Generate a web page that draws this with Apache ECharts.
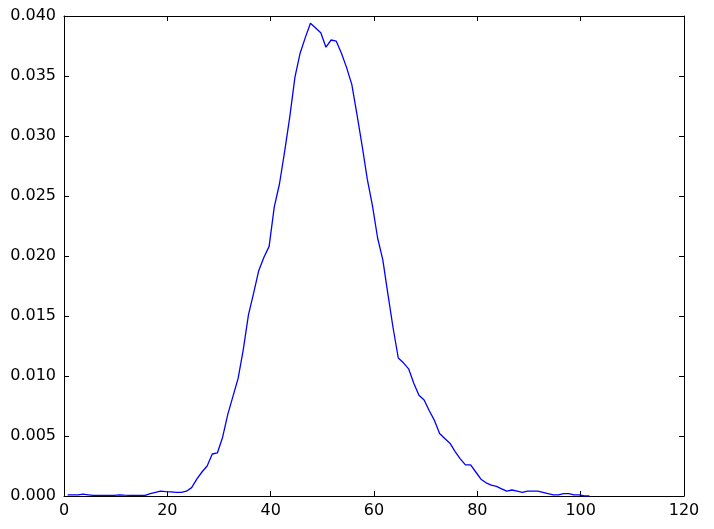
<!DOCTYPE html>
<html>
<head>
<meta charset="utf-8">
<script src="https://cdn.jsdelivr.net/npm/echarts@6/dist/echarts.min.js"></script>
<style>
  html, body { margin: 0; padding: 0; background: #fff; }
  #chart { width: 714px; height: 529px; }
</style>
</head>
<body>
<div id="chart"></div>
<script>
// x positions of the curve points
const xs = [
  0.7, 1.7, 2.7, 3.7, 4.7, 5.7, 6.7, 7.7, 8.7, 9.7,
  10.7, 11.7, 12.7, 13.7, 14.7, 15.7, 16.7, 17.7, 18.7, 19.7,
  20.7, 21.7, 22.7, 23.7, 24.7, 25.7, 26.7, 27.7, 28.7, 29.7,
  30.7, 31.7, 32.7, 33.7, 34.7, 35.7, 36.7, 37.7, 38.7, 39.7,
  40.7, 41.7, 42.7, 43.7, 44.7, 45.7, 46.7, 47.7, 48.7, 49.7,
  50.7, 51.7, 52.7, 53.7, 54.7, 55.7, 56.7, 57.7, 58.7, 59.7,
  60.7, 61.7, 62.7, 63.7, 64.7, 65.7, 66.7, 67.7, 68.7, 69.7,
  70.7, 71.7, 72.7, 73.7, 74.7, 75.7, 76.7, 77.7, 78.7, 79.7,
  80.7, 81.7, 82.7, 83.7, 84.7, 85.7, 86.7, 87.7, 88.7, 89.7,
  90.7, 91.7, 92.7, 93.7, 94.7, 95.7, 96.7, 97.7, 98.7, 99.7,
  100.7, 101.7
]
// density values
const density = [
  0.0001, 0.0001, 0.0001, 0.00015, 0.0001, 0.00005, 0.00005, 0.00005, 0.00005, 0.00005,
  0.0001, 0.00007, 0.00005, 0.00005, 0.00005, 0.00005, 0.0002, 0.0003, 0.0004, 0.00037,
  0.00035, 0.0003, 0.0003, 0.0004, 0.0007, 0.0014, 0.0020, 0.0025, 0.0035, 0.0036,
  0.0049, 0.0068, 0.0083, 0.0098, 0.0122, 0.0151, 0.0169, 0.0188, 0.0199, 0.0208,
  0.0241, 0.0260, 0.0287, 0.0316, 0.0349, 0.0369, 0.0382, 0.0394, 0.0390, 0.0386,
  0.0374, 0.0380, 0.0379, 0.0369, 0.0357, 0.0343, 0.0318, 0.0292, 0.0264, 0.0242,
  0.0215, 0.0197, 0.0168, 0.0140, 0.0115, 0.0111, 0.0106, 0.0094, 0.0084, 0.0080,
  0.0071, 0.0063, 0.0052, 0.0048, 0.0044, 0.0037, 0.0031, 0.0026, 0.0026, 0.0020,
  0.0014, 0.0011, 0.0009, 0.0008, 0.0006, 0.0004, 0.0005, 0.0004, 0.0003, 0.0004,
  0.0004, 0.0004, 0.0003, 0.0002, 0.0001, 0.0001, 0.0002, 0.0002, 0.0001, 0.0001,
  0.0000, 0.0000
]
const xTicks = [0, 20, 40, 60, 80, 100, 120]
const yTicks = ['0.000', '0.005', '0.010', '0.015', '0.020', '0.025', '0.030', '0.035', '0.040']

const font = 'DejaVu Sans'
const axisLine = { show: true, onZero: false, lineStyle: { color: '#000', width: 1 } }
const tick = { show: true, inside: true, length: 5, lineStyle: { color: '#000', width: 1 } }

const chart = echarts.init(document.getElementById('chart'))
chart.setOption({
  animation: false,
  backgroundColor: '#fff',
  grid: { left: 64, top: 16, right: 30, bottom: 33 },
  xAxis: [
    {
      type: 'value',
      min: xTicks[0],
      max: xTicks[xTicks.length - 1],
      interval: 20,
      position: 'bottom',
      axisLine: axisLine,
      axisTick: tick,
      splitLine: { show: false },
      axisLabel: { color: '#000', fontFamily: font, fontSize: 16, margin: 7 }
    },
    {
      type: 'value',
      min: xTicks[0],
      max: xTicks[xTicks.length - 1],
      interval: 20,
      position: 'top',
      axisLine: axisLine,
      axisTick: tick,
      splitLine: { show: false },
      axisLabel: { show: false }
    }
  ],
  yAxis: [
    {
      type: 'value',
      min: 0,
      max: 0.04,
      interval: 0.005,
      position: 'left',
      axisLine: axisLine,
      axisTick: tick,
      splitLine: { show: false },
      axisLabel: {
        color: '#000', fontFamily: font, fontSize: 16, margin: 8,
        formatter: (v) => yTicks[Math.round(v / 0.005)]
      }
    },
    {
      type: 'value',
      min: 0,
      max: 0.04,
      interval: 0.005,
      position: 'right',
      axisLine: axisLine,
      axisTick: tick,
      splitLine: { show: false },
      axisLabel: { show: false }
    }
  ],
  series: [
    {
      type: 'line',
      data: xs.map((x, i) => [x, density[i]]),
      showSymbol: false,
      lineStyle: { color: '#0000ff', width: 1.3 },
      itemStyle: { color: '#0000ff' }
    }
  ]
})
</script>
</body>
</html>
